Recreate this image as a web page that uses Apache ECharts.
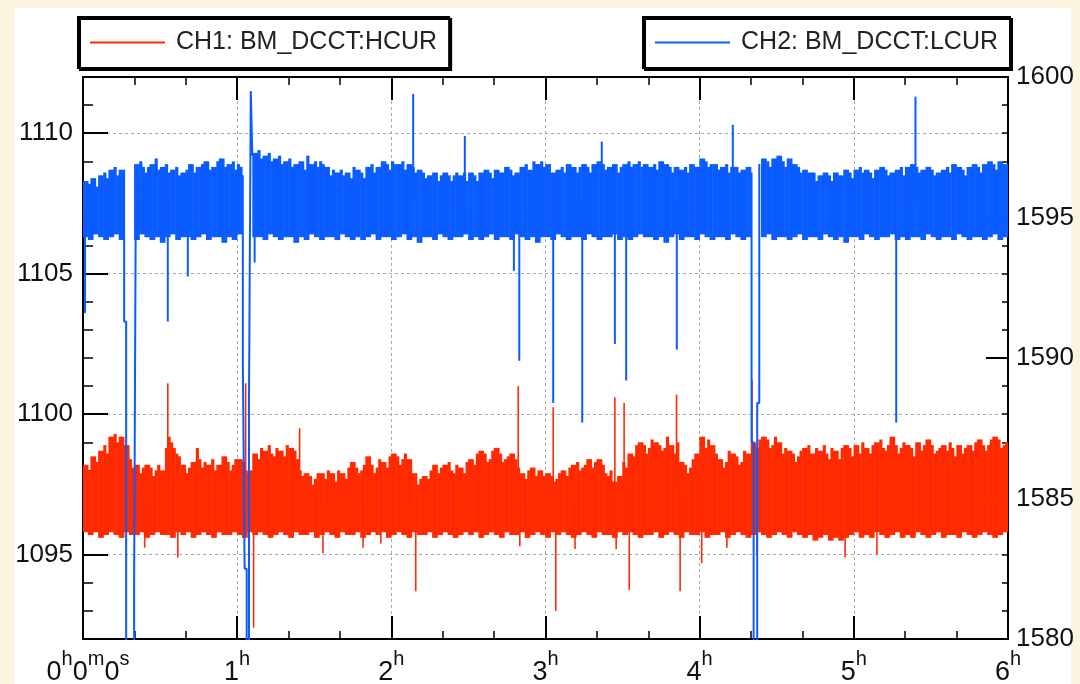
<!DOCTYPE html>
<html>
<head>
<meta charset="utf-8">
<script src="https://cdn.jsdelivr.net/npm/echarts@6/dist/echarts.min.js"></script>
<style>
html, body { margin: 0; padding: 0; background: #fdf4e0; }
#panel { position: absolute; left: 14px; top: 8px; width: 1057px; height: 676px; background: #fff; }
#chart { position: absolute; left: 0; top: 0; width: 1080px; height: 684px; }
</style>
</head>
<body>
<div id="panel"></div>
<div id="chart"></div>
<script>
// time in minutes; band tops per 1-minute bin, band bottoms per 2-minute bin
const TOP_BIN = 1;
const LOW_BIN = 2;
const ch1Name = 'CH1: BM_DCCT:HCUR';
const ch2Name = 'CH2: BM_DCCT:LCUR';
const leftTicks = [1095, 1100, 1105, 1110];

const ch1Hi = [
  1098.2, 1098.2, 1098.0, 1098.5, 1098.5, 1098.3, 1098.7, 1098.7, 1098.9, 1098.6, 1099.2, 1099.2, 1099.3, 1099.0, 1099.2, 1099.2,
  1098.9, 1098.9, 1098.4, 1098.1,
  1098.2, 1098.2, 1097.9, 1098.1, 1098.2, 1098.2, 1098.1, 1097.8, 1098.0, 1098.2, 1098.0, 1098.0,
  1098.8, 1099.2, 1099.0, 1098.8,
  1098.6, 1098.5, 1098.2, 1098.2, 1097.9, 1098.1, 1098.3, 1098.3, 1098.8, 1098.4, 1098.1, 1098.3,
  1098.2, 1098.2, 1098.4, 1098.0, 1098.2, 1098.2, 1098.5, 1098.5, 1098.3, 1098.0, 1098.2, 1098.4,
  1098.4, 1098.4, 1098.3, 1098.0, 1097.9, 1098.0,
  1098.6, 1098.6, 1098.4, 1098.8, 1098.7, 1098.7, 1098.9, 1098.6, 1098.5, 1098.8, 1098.7, 1098.7, 1098.5, 1098.9, 1098.8, 1098.8, 1098.7, 1098.4,
  1098.0, 1097.8,
  1097.9, 1097.9, 1097.8, 1097.5, 1097.7, 1097.9,
  1097.9, 1097.9, 1097.7, 1098.0, 1097.9, 1097.9, 1097.6, 1098.0, 1097.9, 1097.9, 1097.7, 1098.1, 1098.3, 1098.3, 1098.1, 1097.9, 1098.0, 1098.2,
  1098.5, 1098.5, 1098.2, 1097.9, 1098.1, 1098.4, 1098.3, 1098.3, 1098.1, 1098.5, 1098.6, 1098.6, 1098.5, 1098.2, 1098.4, 1098.6, 1098.4, 1098.4,
  1097.9, 1097.9, 1097.5, 1097.7, 1097.8, 1097.8, 1097.7, 1098.0, 1098.2, 1098.2, 1097.9, 1098.1, 1098.2, 1098.2, 1098.3, 1098.0, 1097.9, 1098.2, 1098.1, 1098.1, 1097.9, 1098.3,
  1098.4, 1098.4, 1098.2, 1098.6, 1098.7, 1098.7, 1098.6, 1098.3, 1098.4, 1098.7, 1098.8, 1098.8, 1098.6, 1098.3, 1098.4, 1098.5, 1098.6, 1098.6, 1098.4, 1098.1,
  1097.9, 1097.9, 1097.7, 1098.0, 1098.1, 1098.1, 1097.8, 1098.0, 1098.0, 1097.8,
  1097.9, 1097.9, 1097.8, 1097.6, 1097.7, 1097.9, 1098.0, 1098.0, 1097.8, 1098.1, 1098.2, 1098.2, 1098.3, 1098.0, 1098.1,
  1098.2, 1098.4, 1098.4, 1098.1, 1098.3, 1098.4, 1098.4, 1098.2, 1097.9, 1097.8, 1098.0, 1097.6, 1097.6, 1097.8, 1097.8,
  1098.3, 1098.1, 1098.6, 1098.6, 1098.5, 1098.9, 1099.0, 1099.0, 1098.9, 1098.6, 1098.8, 1099.1, 1099.0, 1099.0, 1098.9, 1098.7, 1098.8, 1099.2, 1098.9, 1098.9, 1098.6, 1099.0,
  1098.3, 1098.3, 1098.2, 1097.9, 1098.1, 1098.4, 1098.6, 1098.6,
  1099.2, 1099.2, 1098.8, 1099.1, 1098.9, 1098.9, 1098.6, 1098.4, 1098.4, 1098.1, 1098.3, 1098.7, 1098.6, 1098.6, 1098.5, 1098.2, 1098.3, 1098.7, 1098.6, 1098.6,
  1099.0, 1099.0, 1098.8, 1099.1, 1099.2, 1099.2, 1099.1, 1098.8, 1098.9, 1099.2,
  1099.0, 1099.0, 1098.6, 1098.8, 1098.7, 1098.7, 1098.6, 1098.3, 1098.5, 1098.7, 1098.8, 1098.8, 1098.9, 1098.6, 1098.6,
  1098.8, 1098.7, 1098.7, 1098.9, 1098.6, 1098.4, 1098.8, 1098.7, 1098.7, 1098.4, 1098.8, 1098.9, 1098.9, 1098.8, 1098.5,
  1098.9, 1098.9, 1098.6, 1099.0, 1098.8, 1098.8, 1098.6, 1098.9, 1099.0, 1099.0, 1099.1, 1098.8, 1098.7, 1098.9, 1099.2,
  1099.2, 1098.9, 1098.6, 1098.8, 1099.0, 1098.9, 1098.9, 1098.8, 1098.5, 1099.0, 1099.0, 1098.7, 1098.9, 1099.1, 1099.1,
  1098.9, 1098.6, 1098.7, 1098.8, 1098.9, 1098.9, 1098.7, 1099.0, 1098.8, 1098.5, 1098.9, 1098.9, 1098.6, 1098.8, 1098.9,
  1098.9, 1098.7, 1099.0, 1099.1, 1099.1, 1098.9, 1098.7, 1098.9, 1099.1, 1099.2, 1099.2, 1099.1, 1098.8, 1098.9, 1099.0
];
const ch1Lo = [
  1095.8, 1095.7, 1095.8, 1095.6, 1095.7, 1095.8, 1095.7, 1095.6, 1095.8, 1095.7,
  1095.7, 1095.8, 1095.6, 1095.7, 1095.8, 1095.7, 1095.7, 1095.6, 1095.8, 1095.7,
  1095.8, 1095.6, 1095.7, 1095.8, 1095.7, 1095.6, 1095.8, 1095.7, 1095.7, 1095.8,
  1095.7, 1095.6, 1095.8, 1095.7, 1095.8, 1095.7, 1095.6, 1095.7, 1095.8, 1095.7,
  1095.6, 1095.8, 1095.7, 1095.7, 1095.8, 1095.6, 1095.7, 1095.8, 1095.7, 1095.6,
  1095.8, 1095.7, 1095.7, 1095.8, 1095.6, 1095.7, 1095.8, 1095.7, 1095.8, 1095.6,
  1095.7, 1095.8, 1095.7, 1095.6, 1095.8, 1095.7, 1095.7, 1095.8, 1095.6, 1095.7,
  1095.8, 1095.7, 1095.6, 1095.7, 1095.8, 1095.7, 1095.8, 1095.6, 1095.7, 1095.8,
  1095.7, 1095.6, 1095.8, 1095.7, 1095.7, 1095.8, 1095.6, 1095.7, 1095.8, 1095.7,
  1095.6, 1095.8, 1095.7, 1095.8, 1095.7, 1095.6, 1095.7, 1095.8, 1095.7, 1095.6,
  1095.8, 1095.7, 1095.7, 1095.6, 1095.8, 1095.7, 1095.8, 1095.7, 1095.6, 1095.7,
  1095.7, 1095.8, 1095.6, 1095.7, 1095.8, 1095.7, 1095.6, 1095.8, 1095.7, 1095.7,
  1095.8, 1095.6, 1095.7, 1095.7, 1095.8, 1095.6, 1095.7, 1095.8, 1095.7, 1095.6,
  1095.7, 1095.8, 1095.7, 1095.6, 1095.7, 1095.8, 1095.7, 1095.6, 1095.8, 1095.7,
  1095.6, 1095.7, 1095.5, 1095.6, 1095.7, 1095.5, 1095.6, 1095.5, 1095.6, 1095.7,
  1095.8, 1095.6, 1095.7, 1095.6, 1095.8, 1095.7, 1095.6, 1095.7, 1095.8, 1095.6,
  1095.7, 1095.6, 1095.8, 1095.7, 1095.6, 1095.7, 1095.8, 1095.6, 1095.7, 1095.7,
  1095.6, 1095.8, 1095.7, 1095.6, 1095.7, 1095.8, 1095.7, 1095.6, 1095.7, 1095.8
];
const ch2Hi = [
  1596.3, 1596.3, 1596.2, 1596.4, 1596.4, 1596.1, 1596.5, 1596.5, 1596.6, 1596.4, 1596.7, 1596.7, 1596.8, 1596.5, 1596.7, 1596.7,
  null, null, null, null,
  1596.9, 1596.9, 1597.0, 1596.8, 1596.6, 1596.8, 1596.9, 1596.9, 1597.1, 1596.7, 1596.8, 1596.8, 1596.9, 1596.6, 1596.7, 1596.7, 1596.8, 1596.5, 1596.6, 1596.6,
  1596.7, 1596.9, 1596.9, 1596.6, 1596.8, 1596.8, 1596.9, 1597.0, 1597.0, 1596.7, 1596.8, 1596.8, 1597.0, 1597.1, 1597.1, 1596.8, 1596.9, 1596.9, 1597.0, 1596.7,
  1596.9, 1596.8,
  null, null, null, null,
  1597.3, 1597.3, 1597.4, 1597.1, 1597.2, 1597.2, 1597.3, 1597.0, 1597.1, 1597.1, 1597.2, 1596.9, 1597.0, 1597.0, 1597.1, 1596.8, 1596.9, 1596.9, 1597.0, 1597.0, 1596.7, 1597.2, 1596.9, 1596.9, 1597.0, 1596.8,
  1597.0, 1596.9, 1596.8, 1596.8, 1596.5, 1596.7, 1596.6, 1596.6, 1596.7, 1596.5, 1596.6, 1596.6, 1596.4, 1596.8, 1596.7, 1596.7, 1596.6, 1596.4, 1596.8, 1596.8, 1596.9, 1596.6, 1596.8, 1596.8, 1597.0, 1597.0, 1596.9, 1596.7,
  1597.0, 1596.9, 1596.9, 1596.9, 1597.0, 1596.7, 1596.9, 1596.9, 1596.8, 1596.6, 1596.7, 1596.7, 1596.6, 1596.4, 1596.5, 1596.5, 1596.6, 1596.6, 1596.3, 1596.5, 1596.6, 1596.6, 1596.5, 1596.3, 1596.5, 1596.6, 1596.5, 1596.5, 1596.6, 1596.3,
  1596.6, 1596.6, 1596.5, 1596.3, 1596.6, 1596.6, 1596.7, 1596.7, 1596.6, 1596.4, 1596.7, 1596.7, 1596.6, 1596.6, 1596.8, 1596.8, 1596.7, 1596.5, 1596.6, 1596.6, 1596.8, 1596.8, 1596.9, 1596.7, 1596.7, 1597.0, 1596.9, 1596.9, 1597.0, 1596.8,
  1596.9, 1596.9, 1596.6, 1596.6, 1596.7, 1596.7, 1596.8, 1596.6, 1596.9, 1596.9, 1596.8, 1596.8, 1596.6, 1596.8, 1596.9, 1596.9, 1596.8, 1596.6, 1596.9, 1596.9,
  1597.0, 1597.0, 1596.9, 1596.7, 1596.8, 1596.8, 1596.9, 1596.9, 1596.6, 1596.8, 1596.9, 1596.9, 1597.0, 1596.8, 1596.9, 1596.9, 1597.0, 1596.8, 1596.9, 1596.9,
  1596.8, 1596.8, 1596.9, 1596.7, 1597.0, 1597.0, 1596.9, 1596.9, 1596.8, 1596.6, 1596.8, 1596.8, 1596.7, 1596.7, 1596.8, 1596.6, 1596.9, 1596.9, 1596.8, 1596.8,
  1597.1, 1597.1, 1597.0, 1596.8, 1596.9, 1596.9, 1596.9, 1596.7, 1596.8, 1596.8, 1596.9, 1596.6, 1596.8, 1596.8, 1596.8, 1596.6, 1596.7, 1596.7, 1596.8, 1596.8,
  null, null, null, null,
  1597.1, 1597.1, 1597.0, 1596.8, 1597.1, 1597.1, 1597.2, 1597.2, 1597.0, 1596.8, 1597.1, 1597.1, 1596.9, 1596.9, 1596.8, 1596.6, 1596.7, 1596.7,
  1596.6, 1596.6, 1596.6, 1596.3, 1596.5, 1596.5, 1596.6, 1596.6, 1596.5, 1596.3, 1596.6, 1596.6, 1596.5, 1596.5, 1596.7, 1596.7, 1596.6, 1596.4,
  1596.7, 1596.7, 1596.8, 1596.6, 1596.7, 1596.7, 1596.6, 1596.4, 1596.7, 1596.7, 1596.8, 1596.8, 1596.7, 1596.5, 1596.6, 1596.6, 1596.7, 1596.7, 1596.8, 1596.5,
  1596.8, 1596.8, 1596.9, 1596.9, 1596.8, 1596.6, 1596.7, 1596.7, 1596.8, 1596.8, 1596.7, 1596.5, 1596.6, 1596.6, 1596.7, 1596.7, 1596.8, 1596.6, 1596.9, 1596.9,
  1596.8, 1596.8, 1596.7, 1596.5, 1596.8, 1596.8, 1596.9, 1596.9, 1596.8, 1596.6, 1596.9, 1596.9, 1597.0, 1597.0, 1596.9, 1596.7, 1597.0, 1597.0, 1596.9, 1596.9
];
const ch2Lo = [
  1594.3, 1594.2, 1594.4, 1594.3, 1594.2, 1594.3, 1594.4, 1594.2, 1594.3, 1594.3,
  1594.2, 1594.4, 1594.3, 1594.2, 1594.3, 1594.1, 1594.3, 1594.4, 1594.2, 1594.3,
  1594.3, 1594.2, 1594.3, 1594.4, 1594.2, 1594.3, 1594.3, 1594.1, 1594.3, 1594.2,
  1594.4, 1594.3, 1594.2, 1594.3, 1594.3, 1594.2, 1594.4, 1594.3, 1594.2, 1594.3,
  1594.3, 1594.1, 1594.3, 1594.2, 1594.4, 1594.3, 1594.2, 1594.3, 1594.3, 1594.2,
  1594.4, 1594.3, 1594.2, 1594.3, 1594.2, 1594.3, 1594.4, 1594.2, 1594.3, 1594.3,
  1594.2, 1594.3, 1594.4, 1594.2, 1594.3, 1594.1, 1594.3, 1594.3, 1594.2, 1594.4,
  1594.3, 1594.2, 1594.3, 1594.3, 1594.4, 1594.2, 1594.3, 1594.2, 1594.3, 1594.4,
  1594.2, 1594.3, 1594.3, 1594.2, 1594.4, 1594.3, 1594.2, 1594.3, 1594.1, 1594.3,
  1594.3, 1594.2, 1594.4, 1594.3, 1594.2, 1594.3, 1594.3, 1594.2, 1594.4, 1594.3,
  1594.2, 1594.3, 1594.3, 1594.4, 1594.2, 1594.3, 1594.2, 1594.3, 1594.4, 1594.3,
  1594.3, 1594.2, 1594.3, 1594.1, 1594.3, 1594.4, 1594.2, 1594.3, 1594.3, 1594.2,
  1594.4, 1594.3, 1594.2, 1594.3, 1594.3, 1594.2, 1594.4, 1594.3, 1594.2, 1594.3,
  1594.3, 1594.2, 1594.3, 1594.4, 1594.2, 1594.3, 1594.3, 1594.2, 1594.3, 1594.4,
  1594.2, 1594.3, 1594.3, 1594.2, 1594.4, 1594.3, 1594.2, 1594.3, 1594.1, 1594.3,
  1594.3, 1594.2, 1594.4, 1594.3, 1594.2, 1594.3, 1594.3, 1594.4, 1594.2, 1594.3,
  1594.2, 1594.3, 1594.3, 1594.2, 1594.4, 1594.3, 1594.2, 1594.3, 1594.3, 1594.2,
  1594.4, 1594.3, 1594.2, 1594.3, 1594.3, 1594.2, 1594.3, 1594.4, 1594.2, 1594.3
];

// single-sample excursions [minute, value]
const ch1Spikes = [
  [33.0, 1101.1], [63.3, 1101.1], [84.3, 1099.5], [169.4, 1101.0], [183.0, 1100.25],
  [207.0, 1100.6], [210.6, 1100.4], [231.0, 1100.7], [260.4, 1101.2],
  [24.0, 1095.25], [36.9, 1094.9], [66.4, 1092.4], [93.4, 1095.05], [109.0, 1095.25],
  [115.9, 1095.4], [129.5, 1093.7], [170.0, 1095.3], [184.0, 1093.0], [191.5, 1095.2],
  [207.5, 1095.2], [212.6, 1093.75], [232.4, 1093.7], [240.8, 1094.7], [250.6, 1095.25],
  [262.3, 1095.0], [296.6, 1094.9], [309.0, 1095.0]
];
const ch2Spikes = [
  [128.5, 1599.4], [148.6, 1597.9], [201.9, 1597.7], [252.9, 1598.3], [324.0, 1599.3],
  [0.8, 1591.6], [33.0, 1591.3], [40.8, 1592.9], [66.8, 1593.4], [167.7, 1593.1],
  [169.8, 1589.9], [183.0, 1588.4], [194.3, 1587.7], [207.0, 1590.5], [211.4, 1589.2],
  [231.1, 1590.3], [316.5, 1587.7]
];
// beam drop-outs of CH2 (go below the axis)
const ch2Drop1 = [[16.0, 1596.7], [16.0, 1591.3], [16.8, 1591.3], [16.8, 1570], [19.9, 1570], [19.9, 1582.0], [20.6, 1582.0], [20.6, 1596.8]];
const ch2Drop2 = [[62.2, 1596.5], [62.2, 1589.9], [62.9, 1589.9], [62.9, 1582.5], [63.7, 1582.5], [63.7, 1570], [64.6, 1570], [64.6, 1588.5], [65.3, 1588.5], [65.3, 1599.5], [65.9, 1599.5], [65.9, 1597.2]];
const ch2Drop3 = [[260.2, 1596.6], [260.2, 1587.0], [261.0, 1587.0], [261.0, 1570], [262.4, 1570], [262.4, 1588.4], [263.2, 1588.4], [263.2, 1596.9]];

const RED = '#ff2a00';
const BLUE = '#0b5cff';
const FONT = '"Liberation Sans", Arial, sans-serif';

function lowAt(lo, t) {
  return lo[Math.min(Math.floor(t / LOW_BIN), lo.length - 1)];
}

function bandRows(hi, lo) {
  const rows = [];
  hi.forEach((h, i) => {
    if (h == null) return;
    const t = i * TOP_BIN;
    rows.push([t, t + TOP_BIN, lowAt(lo, t), h]);
  });
  return rows;
}

function spikeRows(spikes, hi, lo) {
  return spikes.map(([t, v]) => {
    const i = Math.min(Math.floor(t / TOP_BIN), hi.length - 1);
    const l = lowAt(lo, t);
    const h = hi[i] == null ? l : hi[i];
    return [t, (h + l) / 2, v];
  });
}

function renderBand(color) {
  return function (params, api) {
    const a = api.coord([api.value(0), api.value(3)]);
    const b = api.coord([api.value(1), api.value(2)]);
    return {
      type: 'rect',
      shape: { x: a[0] - 0.3, y: a[1], width: b[0] - a[0] + 0.6, height: b[1] - a[1] },
      style: { fill: color }
    };
  };
}

function renderSpike(color, width) {
  return function (params, api) {
    const a = api.coord([api.value(0), api.value(1)]);
    const b = api.coord([api.value(0), api.value(2)]);
    return {
      type: 'line',
      shape: { x1: a[0], y1: a[1], x2: b[0], y2: b[1] },
      style: { stroke: color, lineWidth: width }
    };
  };
}

const chart = echarts.init(document.getElementById('chart'));

const xLabel = v => v === 0 ? '{z|0}{s|h}{d|0}{s|m}{d|0}{s|s}' : '{d|' + (v / 60) + '}{s|h}';

const baseX = {
  type: 'value', min: 0, max: 360, interval: 60,
  axisLine: { show: true, lineStyle: { color: '#000', width: 2 } },
  axisTick: { show: true, inside: true, length: 23, lineStyle: { color: '#000', width: 2 } },
  minorTick: { show: true, splitNumber: 3, length: 8, lineStyle: { color: '#000', width: 1.5 } },
  splitLine: { show: false }
};

const legendCommon = {
  top: 17,
  orient: 'horizontal',
  backgroundColor: '#fff',
  borderColor: '#000',
  borderWidth: 2,
  borderRadius: 0,
  shadowColor: '#000',
  shadowBlur: 0,
  shadowOffsetX: 2,
  shadowOffsetY: 2,
  padding: [13, 12, 13, 12],
  itemWidth: 75,
  itemHeight: 2,
  textStyle: { fontFamily: FONT, fontSize: 25, color: '#222', padding: [0, 0, 0, 6] },
  selectedMode: false
};

chart.setOption({
  animation: false,
  grid: { left: 83, right: 72, top: 77, bottom: 45, outerBoundsMode: 'none' },
  legend: [
    Object.assign({}, legendCommon, { left: 78, data: [{ name: ch1Name, icon: 'rect', itemStyle: { color: RED } }] }),
    Object.assign({}, legendCommon, { right: 70, data: [{ name: ch2Name, icon: 'rect', itemStyle: { color: BLUE } }] })
  ],
  xAxis: [
    Object.assign({}, baseX, {
      position: 'bottom',
      splitLine: { show: true, lineStyle: { color: '#aaa', type: [3, 3], width: 1 } },
      axisLabel: {
        margin: 10,
        formatter: xLabel,
        rich: {
          d: { fontFamily: FONT, fontSize: 27, color: '#111', lineHeight: 37, verticalAlign: 'bottom' },
          z: { fontFamily: FONT, fontSize: 27, color: '#111', lineHeight: 37, verticalAlign: 'bottom', padding: [0, 0, 0, 10] },
          s: { fontFamily: FONT, fontSize: 20, color: '#111', lineHeight: 20, verticalAlign: 'top' }
        }
      }
    }),
    Object.assign({}, baseX, { position: 'top', axisLabel: { show: false } })
  ],
  yAxis: [
    {
      type: 'value', position: 'left', min: 1092, max: 1112,
      axisLine: { show: true, lineStyle: { color: '#000', width: 2 } },
      axisTick: { show: true, inside: true, length: 25, customValues: leftTicks, lineStyle: { color: '#000', width: 2 } },
      axisLabel: { show: true, customValues: leftTicks, margin: 10, fontFamily: FONT, fontSize: 26, color: '#111', formatter: v => String(v) },
      splitLine: { show: true, lineStyle: { color: '#aaa', type: [3, 3], width: 1 } }
    },
    {
      type: 'value', position: 'left', min: 1092, max: 1112, interval: 1,
      axisLine: { show: false },
      axisTick: { show: true, inside: true, length: 10, lineStyle: { color: '#000', width: 1.5 } },
      axisLabel: { show: false },
      splitLine: { show: false }
    },
    {
      type: 'value', position: 'right', min: 1580, max: 1600, interval: 5,
      axisLine: { show: true, lineStyle: { color: '#000', width: 2 } },
      axisTick: { show: true, inside: true, length: 22, lineStyle: { color: '#000', width: 2 } },
      minorTick: { show: true, splitNumber: 5, length: 6, lineStyle: { color: '#000', width: 1.5 } },
      axisLabel: { show: true, margin: 8, fontFamily: FONT, fontSize: 26, color: '#111', formatter: v => String(v) },
      splitLine: { show: false }
    }
  ],
  series: [
    {
      name: ch1Name, type: 'custom', xAxisIndex: 0, yAxisIndex: 0, clip: true,
      itemStyle: { color: RED },
      encode: { x: [0, 1], y: [2, 3] },
      renderItem: renderBand(RED),
      data: bandRows(ch1Hi, ch1Lo)
    },
    {
      name: 'ch1-spikes', type: 'custom', xAxisIndex: 0, yAxisIndex: 0, clip: true,
      encode: { x: 0, y: [1, 2] },
      renderItem: renderSpike(RED, 1.6),
      data: spikeRows(ch1Spikes, ch1Hi, ch1Lo)
    },
    {
      name: ch2Name, type: 'custom', xAxisIndex: 0, yAxisIndex: 2, clip: true,
      itemStyle: { color: BLUE },
      encode: { x: [0, 1], y: [2, 3] },
      renderItem: renderBand(BLUE),
      data: bandRows(ch2Hi, ch2Lo)
    },
    {
      name: 'ch2-spikes', type: 'custom', xAxisIndex: 0, yAxisIndex: 2, clip: true,
      encode: { x: 0, y: [1, 2] },
      renderItem: renderSpike(BLUE, 2),
      data: spikeRows(ch2Spikes, ch2Hi, ch2Lo)
    }
  ].concat([ch2Drop1, ch2Drop2, ch2Drop3].map((d, k) => ({
    name: 'ch2-drop-' + k, type: 'line', xAxisIndex: 0, yAxisIndex: 2, clip: true,
    symbol: 'none', lineStyle: { color: BLUE, width: 2 }, data: d
  })))
});
</script>
</body>
</html>
